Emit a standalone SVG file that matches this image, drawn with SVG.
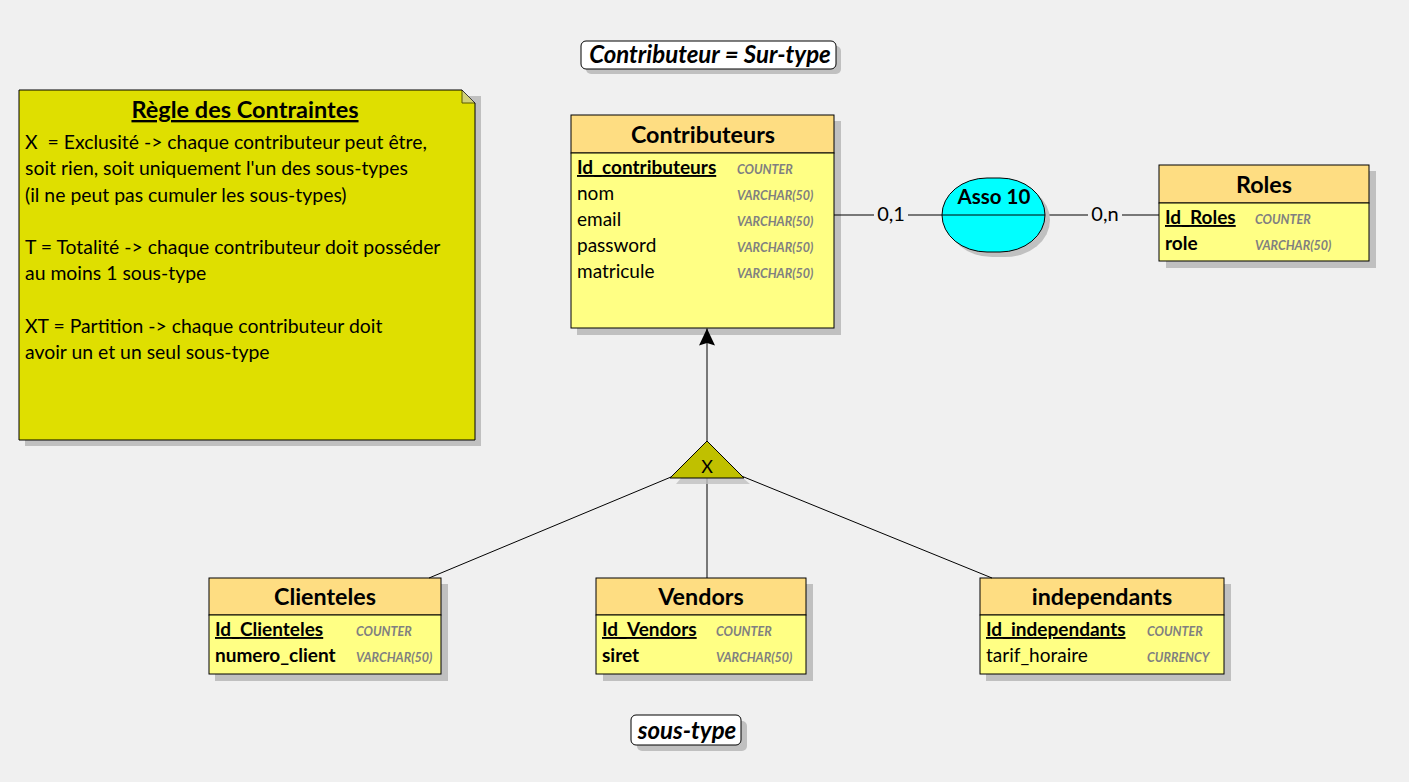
<svg xmlns="http://www.w3.org/2000/svg" width="1409" height="782" viewBox="0 0 1409 782">
<style>
.bg{fill:#f0f0f0}
.sh{fill:#c0c0c0}
.hd{fill:#fedd82;stroke:#000;stroke-width:1}
.bd{fill:#ffff84;stroke:#000;stroke-width:1}
.ttl{font-family:Lato,"Liberation Sans",sans-serif;font-weight:bold;font-size:23.3px;fill:#000;text-anchor:middle}
.att{font-family:Lato,"Liberation Sans",sans-serif;font-size:19px;fill:#000}
.pk{font-weight:bold;text-decoration:underline}
.b{font-weight:bold}
.typ{font-family:Lato,"Liberation Sans",sans-serif;font-size:12.5px;font-weight:bold;font-style:italic;fill:#808080}
.ln{stroke:#000;stroke-width:1;fill:none}
.note{font-family:Lato,"Liberation Sans",sans-serif;font-size:19.4px;fill:#000}
.lbl{font-family:Lato,"Liberation Sans",sans-serif;font-size:24px;font-weight:bold;font-style:italic;fill:#000;text-anchor:middle}
.card{font-family:Lato,"Liberation Sans",sans-serif;font-size:20px;fill:#000;text-anchor:middle}
</style>
<defs>
<marker id="arr" markerWidth="18" markerHeight="18" refX="17" refY="0" orient="auto" markerUnits="userSpaceOnUse" viewBox="0 -9 18 18">
<path d="M0,-8 L17,0 L0,8 L2.5,0 Z" fill="#000"/>
</marker>
</defs>
<rect class="bg" x="0" y="0" width="1409" height="782"/>

<g id="note">
<polygon class="sh" points="25,96 481,96 481,446 25,446"/>
<polygon points="19,90 462,90 475,103 475,440 19,440" fill="#dfdf00" stroke="#000" stroke-width="1"/>
<polyline points="462,90 462,103 475,103" fill="#c8c8c8" stroke="#000" stroke-width="1" opacity="0.6"/>
<text x="245" y="118" font-family="Lato,'Liberation Sans',sans-serif" font-size="23.5" font-weight="bold" text-anchor="middle" text-decoration="underline">Règle des Contraintes</text>
<text class="note" x="25" y="149" xml:space="preserve">X  = Exclusité -&gt; chaque contributeur peut être,</text>
<text class="note" x="25" y="175">soit rien, soit uniquement l'un des sous-types</text>
<text class="note" x="25" y="202">(il ne peut pas cumuler les sous-types)</text>
<text class="note" x="25" y="254">T = Totalité -&gt; chaque contributeur doit posséder</text>
<text class="note" x="25" y="280">au moins 1 sous-type</text>
<text class="note" x="25" y="333">XT = Partition -&gt; chaque contributeur doit</text>
<text class="note" x="25" y="359">avoir un et un seul sous-type</text>
</g>

<g id="label-surtype">
<rect class="sh" x="586" y="46" width="255" height="28" rx="5"/>
<rect x="581" y="41" width="255" height="28" rx="5" fill="#fff" stroke="#000"/>
<text class="lbl" x="710" y="63">Contributeur = Sur-type</text>
</g>

<g id="Contributeurs">
<rect class="sh" x="577" y="121" width="264" height="214"/>
<rect class="hd" x="571" y="115" width="263" height="38"/>
<rect class="bd" x="571" y="153" width="263" height="175"/>
<text class="ttl" x="703" y="143">Contributeurs</text>
<text class="att pk" x="577" y="174">Id_contributeurs</text>
<text class="att" x="577" y="200">nom</text>
<text class="att" x="577" y="226">email</text>
<text class="att" x="577" y="252">password</text>
<text class="att" x="577" y="278">matricule</text>
<text class="typ" x="737" y="174">COUNTER</text>
<text class="typ" x="737" y="200">VARCHAR(50)</text>
<text class="typ" x="737" y="226">VARCHAR(50)</text>
<text class="typ" x="737" y="252">VARCHAR(50)</text>
<text class="typ" x="737" y="278">VARCHAR(50)</text>
</g>

<g id="Roles">
<rect class="sh" x="1166" y="171" width="210" height="97"/>
<rect class="hd" x="1159" y="165" width="210" height="38"/>
<rect class="bd" x="1159" y="203" width="210" height="58"/>
<text class="ttl" x="1264" y="193">Roles</text>
<text class="att pk" x="1165" y="224">Id_Roles</text>
<text class="att b" x="1165" y="250">role</text>
<text class="typ" x="1255" y="224">COUNTER</text>
<text class="typ" x="1255" y="250">VARCHAR(50)</text>
</g>

<g id="Clienteles">
<rect class="sh" x="215" y="584" width="233" height="97"/>
<rect class="hd" x="209" y="578" width="232" height="37"/>
<rect class="bd" x="209" y="615" width="232" height="59"/>
<text class="ttl" x="325" y="605">Clienteles</text>
<text class="att pk" x="215" y="636">Id_Clienteles</text>
<text class="att b" x="215" y="662">numero_client</text>
<text class="typ" x="356" y="636">COUNTER</text>
<text class="typ" x="356" y="662">VARCHAR(50)</text>
</g>

<g id="Vendors">
<rect class="sh" x="603" y="584" width="210" height="97"/>
<rect class="hd" x="596" y="578" width="210" height="37"/>
<rect class="bd" x="596" y="615" width="210" height="59"/>
<text class="ttl" x="701" y="605">Vendors</text>
<text class="att pk" x="602" y="636">Id_Vendors</text>
<text class="att b" x="602" y="662">siret</text>
<text class="typ" x="716" y="636">COUNTER</text>
<text class="typ" x="716" y="662">VARCHAR(50)</text>
</g>

<g id="independants">
<rect class="sh" x="986" y="584" width="245" height="97"/>
<rect class="hd" x="980" y="578" width="244" height="37"/>
<rect class="bd" x="980" y="615" width="244" height="59"/>
<text class="ttl" x="1102" y="605">independants</text>
<text class="att pk" x="986" y="636">Id_independants</text>
<text class="att" x="986" y="662">tarif_horaire</text>
<text class="typ" x="1147" y="636">COUNTER</text>
<text class="typ" x="1147" y="662">CURRENCY</text>
</g>

<g id="connectors">
<line class="ln" x1="834" y1="215" x2="942" y2="215"/>
<line class="ln" x1="1045" y1="215" x2="1159" y2="215"/>
<rect x="874" y="205" width="34" height="20" fill="#f0f0f0"/>
<text class="card" x="891" y="221">0,1</text>
<rect x="1088" y="205" width="34" height="20" fill="#f0f0f0"/>
<text class="card" x="1105" y="221">0,n</text>
<line class="ln" x1="707" y1="441" x2="707" y2="328.5" marker-end="url(#arr)"/>
<line class="ln" x1="707" y1="466" x2="707" y2="578"/>
<line class="ln" x1="707" y1="462" x2="429" y2="578"/>
<line class="ln" x1="707" y1="462" x2="992" y2="578"/>
</g>

<g id="Asso10">
<rect class="sh" x="947" y="183" width="103" height="74" rx="45" ry="37"/>
<rect x="942" y="178" width="103" height="74" rx="45" ry="37" fill="#00ffff" stroke="#000"/>
<line class="ln" x1="942" y1="215" x2="1045" y2="215"/>
<text x="994" y="204" font-family="Lato,'Liberation Sans',sans-serif" font-size="20.5" font-weight="bold" text-anchor="middle">Asso 10</text>
</g>

<g id="heritage">
<polygon class="sh" points="707,447 750,484 676,484" opacity="0.8"/>
<polygon points="707,441 744,478 670,478" fill="#c0c000" stroke="#000" stroke-width="1"/>
<text x="707" y="473" font-family="Lato,'Liberation Sans',sans-serif" font-size="18" text-anchor="middle">X</text>
</g>

<g id="label-soustype">
<rect class="sh" x="637" y="721" width="110" height="30" rx="5"/>
<rect x="631" y="715" width="110" height="30" rx="5" fill="#fff" stroke="#000"/>
<text class="lbl" x="687" y="739">sous-type</text>
</g>
</svg>
